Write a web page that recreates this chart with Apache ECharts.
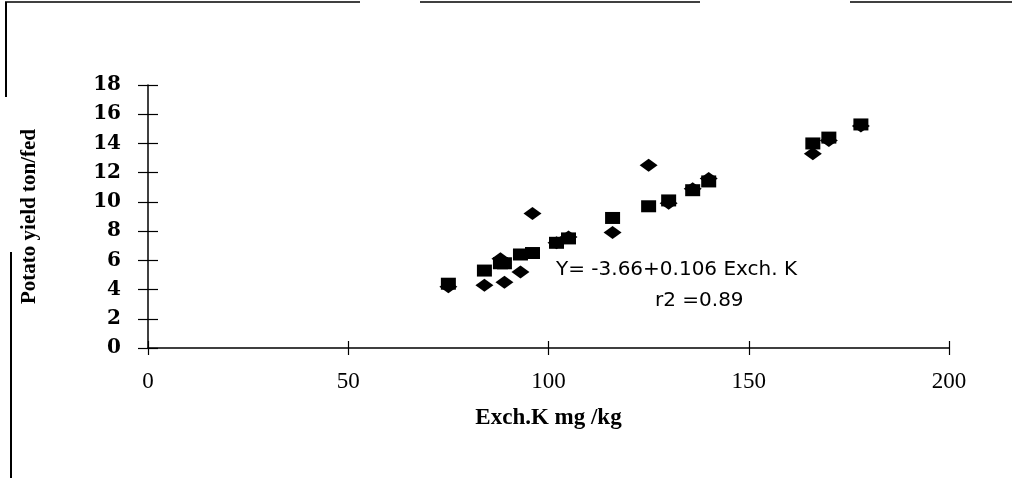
<!DOCTYPE html>
<html>
<head>
<meta charset="utf-8">
<script src="https://cdn.jsdelivr.net/npm/echarts@6/dist/echarts.min.js"></script>
<style>
  html, body { margin: 0; padding: 0; background: #fff; }
  #chart { width: 1012px; height: 478px; }
</style>
</head>
<body>
<div id="chart"></div>
<script>
// Exch.K (mg/kg) vs potato yield (ton/fed)
const exchK = [75, 84, 88, 89, 93, 96, 102, 105, 116, 125, 130, 136, 140, 166, 170, 178]
const observedYield = [4.2, 4.3, 6.1, 4.5, 5.2, 9.2, 7.2, 7.6, 7.9, 12.5, 9.9, 10.9, 11.6, 13.3, 14.2, 15.2]
const predictedYield = [4.4, 5.3, 5.8, 5.8, 6.4, 6.5, 7.2, 7.5, 8.9, 9.7, 10.1, 10.8, 11.4, 14.0, 14.4, 15.3]
const xTicks = [0, 50, 100, 150, 200]
const yTicks = [0, 2, 4, 6, 8, 10, 12, 14, 16, 18]

const chart = echarts.init(document.getElementById('chart'))

const pairs = (xs, ys) => xs.map((x, i) => [x, ys[i]])

const baseX = {
    type: 'value',
    min: xTicks[0],
    max: xTicks[xTicks.length - 1],
    interval: xTicks[1] - xTicks[0],
    splitLine: { show: false },
}
const baseY = {
    type: 'value',
    min: yTicks[0],
    max: yTicks[yTicks.length - 1],
    interval: yTicks[1] - yTicks[0],
    splitLine: { show: false },
}

const option = {
    animation: false,
    backgroundColor: '#fff',
    grid: { left: 148, right: 63, top: 85, bottom: 130 },
    xAxis: [
        {
            ...baseX,
            name: 'Exch.K mg /kg',
            nameLocation: 'middle',
            nameGap: 59,
            nameTextStyle: { fontFamily: 'Liberation Serif', fontWeight: 'bold', fontSize: 23, color: '#000' },
            axisLine: { lineStyle: { color: '#000', width: 1.5 } },
            axisTick: { length: 7, lineStyle: { color: '#000', width: 1.2 } },
            axisLabel: { fontFamily: 'Liberation Serif', fontSize: 23, color: '#000', margin: 22 },
        },
        {
            ...baseX,
            position: 'bottom',
            axisLine: { show: false },
            axisTick: { inside: true, length: 7, lineStyle: { color: '#000', width: 1.2 } },
            axisLabel: { show: false },
        },
    ],
    yAxis: [
        {
            ...baseY,
            name: 'Potato yield ton/fed',
            nameLocation: 'middle',
            nameGap: 108,
            nameTextStyle: { fontFamily: 'Liberation Serif', fontWeight: 'bold', fontSize: 21, color: '#000' },
            axisLine: { show: true, lineStyle: { color: '#000', width: 1.5 } },
            axisTick: { show: true, length: 10, lineStyle: { color: '#000', width: 1.2 } },
            axisLabel: { fontFamily: 'DejaVu Serif', fontWeight: 'bold', fontSize: 20, color: '#000', margin: 27 },
        },
        {
            ...baseY,
            position: 'left',
            axisLine: { show: false },
            axisTick: { show: true, inside: true, length: 10, lineStyle: { color: '#000', width: 1.2 } },
            axisLabel: { show: false },
        },
    ],
    series: [
        {
            name: 'Predicted',
            type: 'scatter',
            symbol: 'rect',
            symbolSize: [15, 12],
            itemStyle: { color: '#000', opacity: 1 },
            data: pairs(exchK, predictedYield),
        },
        {
            name: 'Observed',
            type: 'scatter',
            symbol: 'diamond',
            symbolSize: [18, 13],
            itemStyle: { color: '#000', opacity: 1 },
            data: pairs(exchK, observedYield),
        },
    ],
    graphic: [
        { type: 'text', left: 556, top: 260, style: { text: 'Y= -3.66+0.106 Exch. K', font: '20px "DejaVu Sans"', fill: '#000' } },
        { type: 'text', left: 655, top: 291, style: { text: 'r2 =0.89', font: '20px "DejaVu Sans"', fill: '#000' } },
        // scanned page frame
        { type: 'line', shape: { x1: 5, y1: 2, x2: 360, y2: 2 }, style: { stroke: '#000', lineWidth: 1.5 } },
        { type: 'line', shape: { x1: 420, y1: 2, x2: 700, y2: 2 }, style: { stroke: '#000', lineWidth: 1.5 } },
        { type: 'line', shape: { x1: 850, y1: 2, x2: 1012, y2: 2 }, style: { stroke: '#000', lineWidth: 1.5 } },
        { type: 'line', shape: { x1: 6, y1: 2, x2: 6, y2: 97 }, style: { stroke: '#000', lineWidth: 2 } },
        { type: 'line', shape: { x1: 11, y1: 252, x2: 11, y2: 478 }, style: { stroke: '#000', lineWidth: 2 } },
    ],
}

chart.setOption(option)
window.addEventListener('resize', () => chart.resize())
</script>
</body>
</html>
